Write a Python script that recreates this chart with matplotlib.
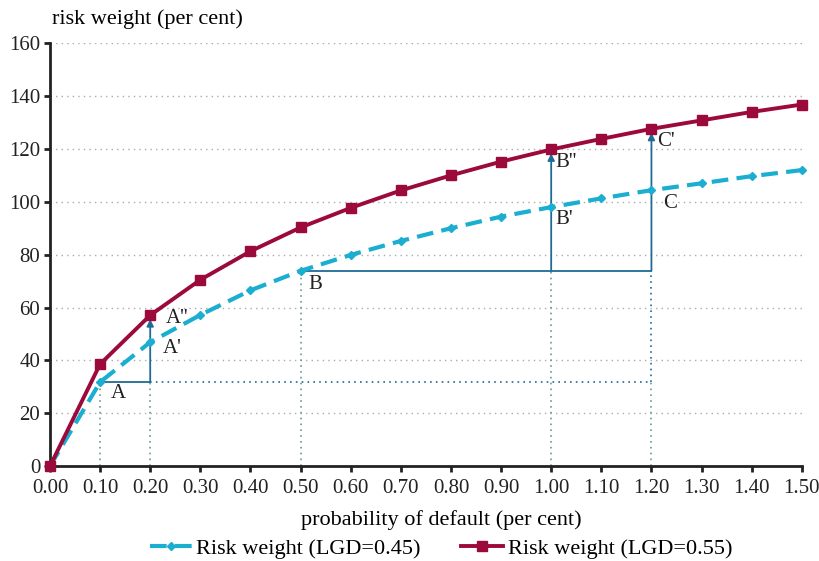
import numpy as np
import matplotlib.pyplot as plt

plt.rcParams['font.family'] = ['Liberation Serif', 'DejaVu Serif']

pd_pct = [0.0, 0.1, 0.2, 0.3, 0.4, 0.5, 0.6, 0.7, 0.8, 0.9, 1.0, 1.1, 1.2, 1.3, 1.4, 1.5]
rw_45 = [0.0, 31.8, 46.9, 57.2, 66.5, 73.9, 79.9, 85.2, 90.0, 94.4, 98.0, 101.3, 104.4, 107.0, 109.7, 112.0]
rw_55 = [0.0, 38.6, 57.1, 70.5, 81.3, 90.3, 97.7, 104.3, 110.0, 115.2, 119.8, 123.8, 127.6, 130.8, 134.0, 136.8]

# labelled points: (label, x, y)
labels = [("A", 0.136, 27.6), ("A'", 0.243, 44.6), ("A''", 0.253, 56.0),
          ("B", 0.529, 68.8), ("B'", 1.025, 93.4), ("B''", 1.029, 115.0),
          ("C", 1.237, 99.5), ("C'", 1.229, 123.0)]

blue = "#1aaed0"
red = "#9b0a3a"
arrow_c = "#1f6b96"
teal = "#5f9e8f"

fig = plt.figure(figsize=(8.19, 5.61), dpi=100)
ax = fig.add_axes([0.061, 0.169, 0.918, 0.754])

i = {x: k for k, x in enumerate(pd_pct)}
yA, yA2 = rw_45[i[0.1]], rw_55[i[0.2]]
yB = rw_45[i[0.5]]

# vertical drop lines to the x axis
for x, ytop in [(0.1, yA), (0.2, yA), (0.5, yB), (1.0, yB), (1.2, yA)]:
    ax.plot([x, x], [0, ytop], color=teal, lw=1.2, ls=(0, (1, 2.5)), zorder=2)
ax.plot([1.2, 1.2], [yA, yB], color=arrow_c, lw=1.2, ls=(0, (1, 2.5)), zorder=2)
ax.plot([0.2, 1.2], [yA, yA], color=arrow_c, lw=1.2, ls=(0, (1, 2.5)), zorder=2)

# solid horizontals and arrows
ax.plot([0.1, 0.2], [yA, yA], color=arrow_c, lw=1.3, zorder=2)
ax.plot([0.5, 1.2], [yB, yB], color=arrow_c, lw=1.3, zorder=2)
for x, y0, y1 in [(0.2, yA, yA2), (1.0, yB, rw_55[i[1.0]]), (1.2, yB, rw_55[i[1.2]])]:
    ax.annotate("", xy=(x, y1 - 1.5), xytext=(x, y0),
                arrowprops=dict(arrowstyle="-|>", color=arrow_c, lw=1.3,
                                mutation_scale=10, shrinkA=0, shrinkB=0), zorder=2)

ax.plot(pd_pct, rw_45, color=blue, lw=3, ls=(0, (4, 2)), marker="D", ms=4.5,
        label="Risk weight (LGD=0.45)", zorder=3, clip_on=False)
ax.plot(pd_pct, rw_55, color=red, lw=2.8, marker="s", ms=6.5,
        label="Risk weight (LGD=0.55)", zorder=4, clip_on=False)

for t, x, y in labels:
    ax.text(x, y, t, fontsize=15, ha="center", va="center", color="#222222")

ax.set_xlim(0, 1.5)
ax.set_ylim(0, 160)
ax.set_xticks(pd_pct)
ax.set_xticklabels([f"{x:.2f}" for x in pd_pct])
ax.set_yticks(range(0, 161, 20))
ax.tick_params(labelsize=15, width=2, length=4, colors="#222222", pad=3)
ax.tick_params(axis="x", pad=5)
ax.yaxis.grid(True, color="#aaaaaa", ls=(0, (1, 3)), lw=1)
ax.set_axisbelow(True)
for s in ["top", "right"]:
    ax.spines[s].set_visible(False)
for s in ["left", "bottom"]:
    ax.spines[s].set_linewidth(2)
    ax.spines[s].set_color("#222222")

ax.set_xlabel("probability of default (per cent)", fontsize=16)
ax.xaxis.set_label_coords(0.52, -0.104)
fig.text(0.064, 0.966, "risk weight (per cent)", fontsize=16, ha="left", va="center")
ax.legend(loc="center", bbox_to_anchor=(0.52, -0.194), ncol=2, frameon=False,
          fontsize=16, handlelength=1.9, handletextpad=0.2, columnspacing=1.8,
          borderpad=0, borderaxespad=0)

fig.savefig("out.png", dpi=100)
